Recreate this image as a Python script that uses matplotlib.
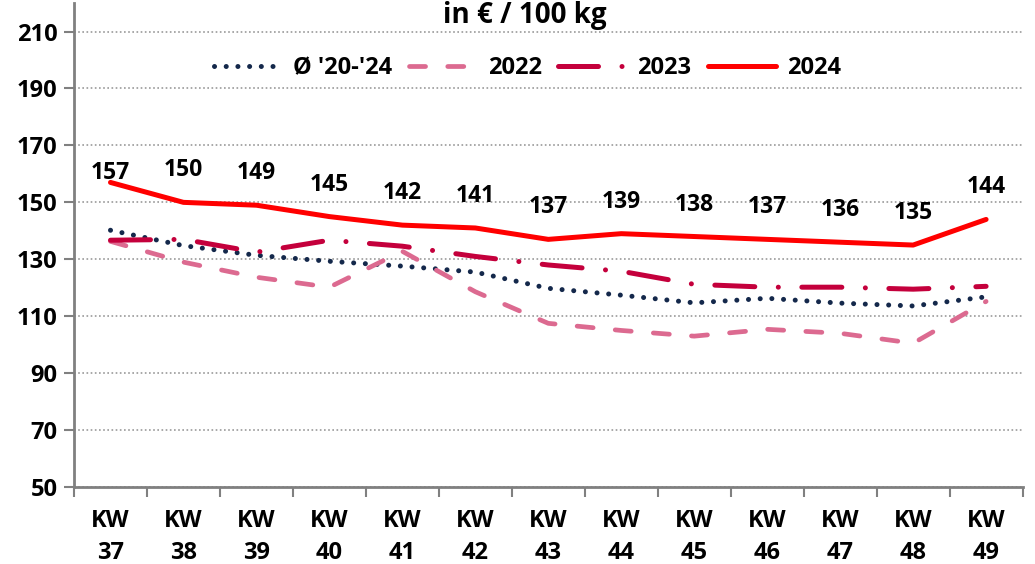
import numpy as np
import matplotlib
matplotlib.use("Agg")
import matplotlib.pyplot as plt
from matplotlib.ticker import FixedLocator, NullFormatter

plt.rcParams['font.family'] = ['Open Sans', 'DejaVu Sans']
plt.rcParams['font.weight'] = 'bold'

wochen = ["KW\n37", "KW\n38", "KW\n39", "KW\n40", "KW\n41", "KW\n42", "KW\n43",
          "KW\n44", "KW\n45", "KW\n46", "KW\n47", "KW\n48", "KW\n49"]
schnitt_20_24 = [140.2, 134.8, 131.4, 129.3, 127.6, 125.5, 119.8, 117.4, 114.7, 116.3, 114.6, 113.6, 116.8]
werte_2022 = [136.3, 129.0, 123.7, 120.2, 132.8, 118.6, 107.5, 105.0, 103.0, 105.4, 104.0, 100.5, 115.2]
werte_2023 = [136.7, 137.0, 132.5, 136.7, 134.6, 131.0, 128.0, 125.8, 121.2, 120.2, 120.2, 119.5, 120.5]
werte_2024 = [157, 150, 149, 145, 142, 141, 137, 139, 138, 137, 136, 135, 144]

fig = plt.figure(figsize=(10.35, 5.64), dpi=100)
ax = fig.add_axes([0.0715, 0.1365, 0.9165, 0.858])

x = np.arange(len(wochen))

ax.plot(x, schnitt_20_24, color="#14284b", lw=3.6, linestyle=(0, (0.01, 2.33)),
        dash_capstyle="round", label="Ø '20-'24")
ax.plot(x, werte_2022, color="#dc6a90", lw=3.4, linestyle=(0, (3.4, 4.7)),
        dash_capstyle="round", label="2022")
ax.plot(x, werte_2023, color="#c4003c", lw=3.6, linestyle=(0, (8, 4.7, 0.01, 4.7)),
        dash_capstyle="round", label="2023")
ax.plot(x, werte_2024, color="#ff0000", lw=3.6, solid_capstyle="round", label="2024")

# Datenbeschriftung 2024
for i, v in enumerate(werte_2024):
    off = 7 if i == 0 else 23
    ax.annotate(f"{v:.0f}", (x[i], v), xytext=(0, off), textcoords="offset points",
                ha="center", va="center", fontsize=16.5, fontweight="bold")

ax.set_xlim(-0.5, len(wochen) - 0.5)
ax.set_ylim(50, 220)
ax.set_yticks(np.arange(50, 211, 20))
ax.set_xticks(x)
ax.set_xticklabels(wochen, fontsize=17, fontweight="bold", linespacing=1.45)
ax.xaxis.set_minor_locator(FixedLocator(np.arange(-0.5, len(wochen), 1)))
ax.xaxis.set_minor_formatter(NullFormatter())
ax.tick_params(axis="x", which="major", length=0, pad=16)
ax.tick_params(axis="x", which="minor", length=7, width=1.5, color="#808080")
ax.tick_params(axis="y", length=7, width=1.5, color="#808080", labelsize=17, pad=5)
for lab in ax.get_yticklabels():
    lab.set_fontweight("bold")

for s in ["top", "right"]:
    ax.spines[s].set_visible(False)
for s in ["left", "bottom"]:
    ax.spines[s].set_color("#808080")
    ax.spines[s].set_linewidth(2)

ax.yaxis.grid(True, linestyle=(0, (1, 1.5)), color="#9a9a9a", lw=1.2)
ax.set_axisbelow(True)

ax.text(0.475, 0.975, "in € / 100 kg", transform=ax.transAxes, ha="center", va="center",
        fontsize=20, fontweight="bold")

ax.legend(loc="center", bbox_to_anchor=(0.478, 0.866), ncol=4, frameon=False,
          handlelength=2.9, columnspacing=0.7, handletextpad=0.45,
          prop={"weight": "bold", "size": 17})

fig.savefig("out.png", dpi=100)
plt.close()
